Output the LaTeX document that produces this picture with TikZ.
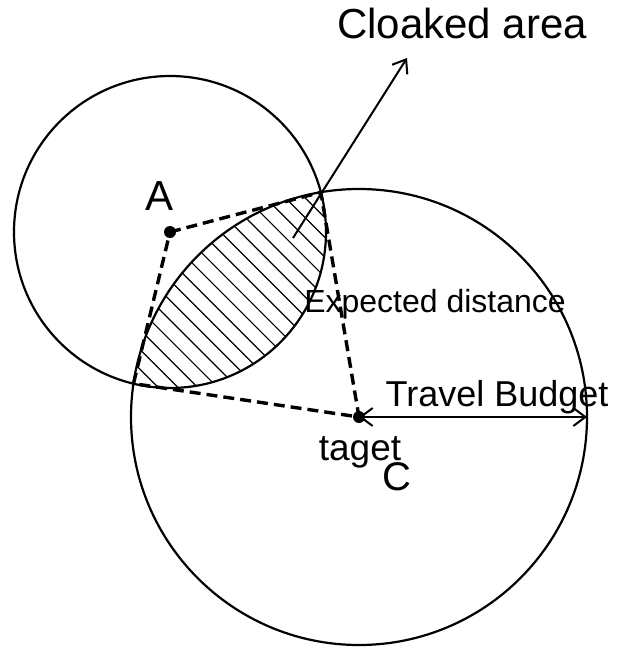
\documentclass[tikz,border=0pt]{standalone}
\usepackage{fontspec}
\setmainfont{Liberation Sans}
\usetikzlibrary{arrows.meta,calc}

\tikzset{
  rim/.style={line width=1.1pt},
  dashline/.style={line width=1.7pt, dash pattern=on 5.5pt off 3pt},
  hatch/.style={line width=0.6pt},
  pointer/.style={line width=1pt, -{Straight Barb[length=6pt,width=9pt]}},
  dot/.style={circle, fill, inner sep=0pt, minimum size=6pt},
  lbl/.style={anchor=base, inner sep=0pt},
}

\begin{document}
\begin{tikzpicture}[x=0.5pt, y=-0.5pt]
\useasboundingbox (0,0) rectangle (618,648);

% centres and crossing points of the two circles
\coordinate (A) at (170,232);
\coordinate (C) at (359,417);
\coordinate (top) at (320.8,192.3);
\coordinate (low) at (133.5,383.6);

% hatched overlap (cloaked area)
\begin{scope}
  \clip (A) circle (156);
  \clip (C) circle (228);
  \foreach \s in {-147,-133,...,147} {
    \draw[hatch] ({227+0.707*\s-0.707*300},{288-0.707*\s-0.707*300})
      -- ({227+0.707*\s+0.707*300},{288-0.707*\s+0.707*300});
  }
\end{scope}

% circles
\draw[rim] (A) circle (156);
\draw[rim] (C) circle (228);

% points
\node[dot] (pa) at (A) {};
\node[dot] (pc) at (C) {};

% expected distance
\draw[dashline] (pa.center) -- (top) -- (pc.center) -- (low) -- cycle;

% pointer to the label
\coordinate (inlens) at (293,238);
\coordinate (tip) at (407,58);
\draw[pointer] (inlens) -- (tip);

% travel budget
\coordinate (edge) at (587,417);
\draw[pointer, {Straight Barb[length=6pt,width=9pt]}-{Straight Barb[length=6pt,width=9pt]}] (pc.center) -- (edge);

% labels
\node[lbl, font=\fontsize{21}{21}\selectfont] (cloak) at (462,39) {Cloaked area};
\node[lbl, font=\fontsize{21}{21}\selectfont] (la) at (160,210) {A};
\node[lbl, font=\fontsize{20}{20}\selectfont] (lc) at (397,490) {C};
\node[lbl, font=\fontsize{18.5}{18.5}\selectfont] (tg) at (360,460) {taget};
\node[lbl, font=\fontsize{16}{16}\selectfont] (ed) at (435,312) {Expected distance};
\node[lbl, font=\fontsize{18}{18}\selectfont] (tb) at (497,406) {Travel Budget};
\end{tikzpicture}
\end{document}
